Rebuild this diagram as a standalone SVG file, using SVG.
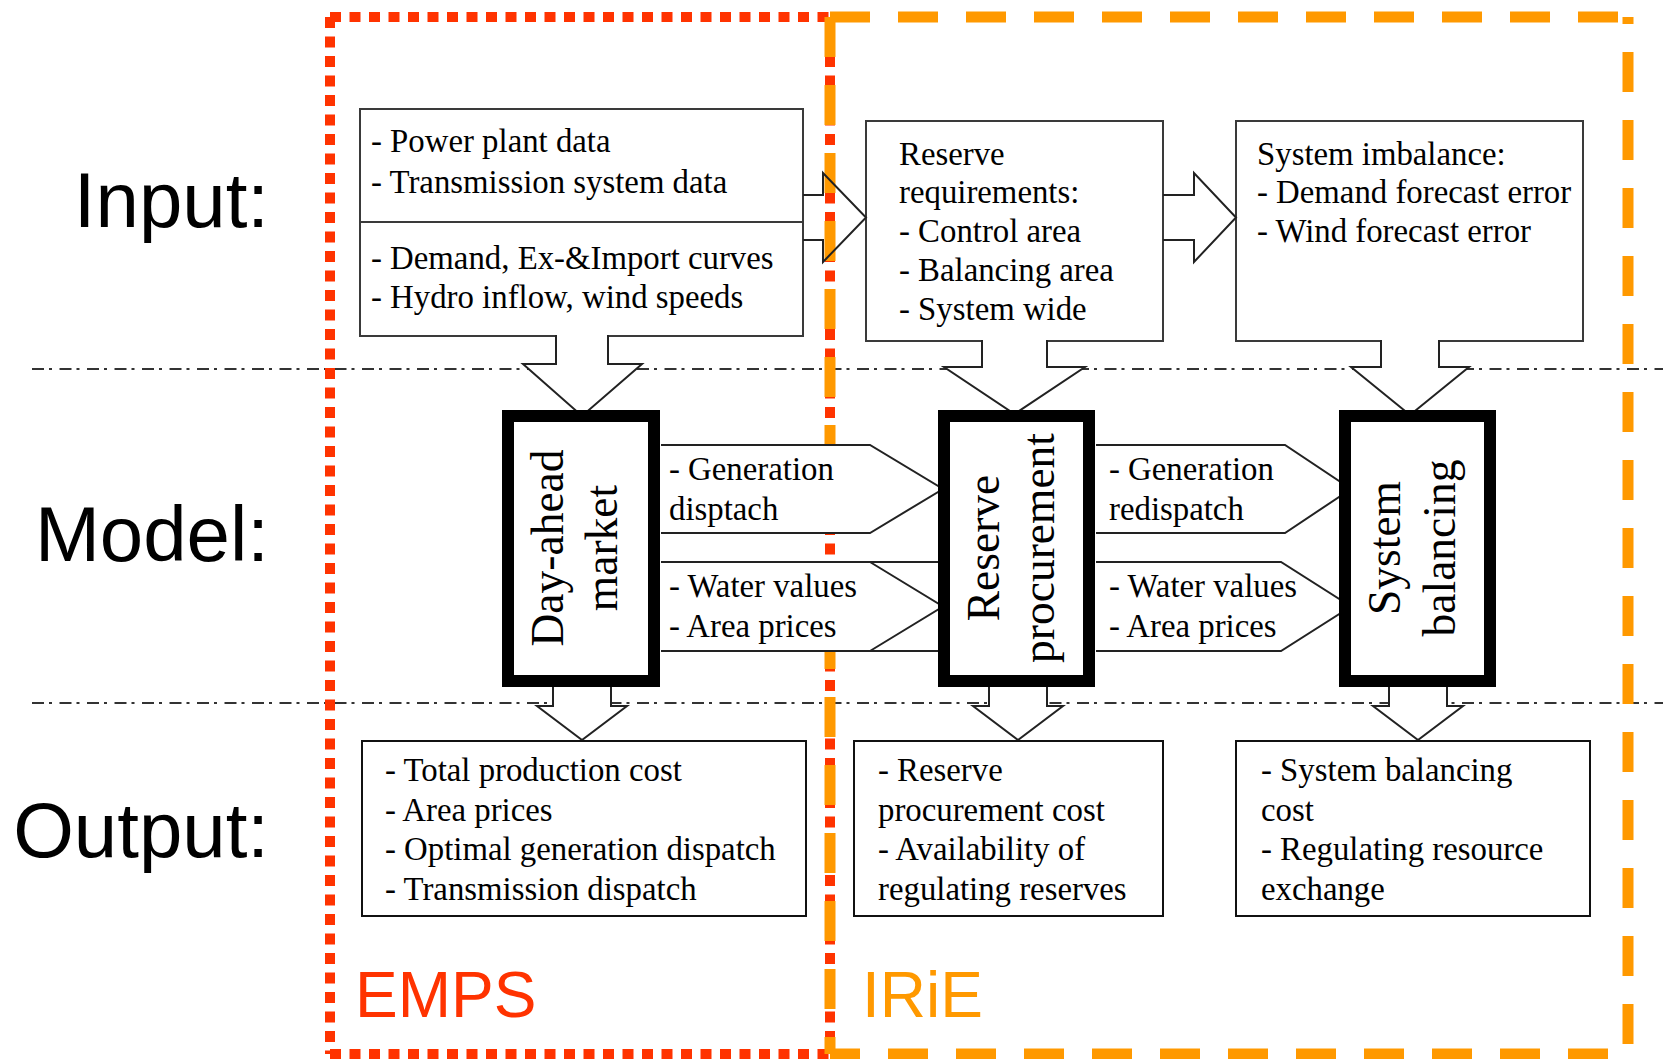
<svg xmlns="http://www.w3.org/2000/svg" width="1669" height="1059" viewBox="0 0 1669 1059">
  <style>
    .lbl{font-family:"Liberation Sans",Arial,sans-serif;font-size:78px;fill:#000;text-anchor:end}
    .t{font-family:"Liberation Serif","Times New Roman",serif;font-size:32.8px;fill:#000}
    .big{font-family:"Liberation Serif","Times New Roman",serif;font-size:45.5px;fill:#000;text-anchor:middle}
    .sep{fill:none;stroke:#333;stroke-width:2;stroke-dasharray:12 5 3 7.5}
    .box{fill:#fff;stroke:#3a3a3a;stroke-width:2}
    .obox{fill:#fff;stroke:#111;stroke-width:2}
    .mbox{fill:#fff;stroke:#000;stroke-width:12}
    .arr{fill:#fff;stroke:#222;stroke-width:2}
    .arro{fill:none;stroke:#222;stroke-width:2}
    .red{fill:none;stroke:#FF3300;stroke-width:10;stroke-dasharray:11 8.5}
    .org{fill:none;stroke:#FF9900;stroke-width:11;stroke-dasharray:40 28}
    .tag{font-family:"Liberation Sans",Arial,sans-serif;font-size:64px}
  </style>

  <!-- row separators -->
  <g id="separators">
    <line class="sep" x1="32" y1="369" x2="1663" y2="369"/>
    <line class="sep" x1="32" y1="703" x2="1663" y2="703"/>
  </g>

  <!-- row labels -->
  <g id="row-labels">
    <text class="lbl" x="269" y="227">Input:</text>
    <text class="lbl" x="269" y="561">Model:</text>
    <text class="lbl" x="269" y="857">Output:</text>
  </g>

  <!-- input boxes -->
  <g id="in-data">
    <rect class="box" x="360" y="109" width="443" height="227"/>
    <line x1="360" y1="222" x2="803" y2="222" stroke="#3a3a3a" stroke-width="2"/>
    <text class="t" x="371" y="152">- Power plant data</text>
    <text class="t" x="371" y="193">- Transmission system data</text>
    <text class="t" x="371" y="269">- Demand, Ex-&amp;Import curves</text>
    <text class="t" x="371" y="308">- Hydro inflow, wind speeds</text>
  </g>
  <g id="in-reserve">
    <rect class="box" x="866" y="121" width="297" height="220"/>
    <text class="t" x="899" y="165">Reserve</text>
    <text class="t" x="899" y="203">requirements:</text>
    <text class="t" x="899" y="242">- Control area</text>
    <text class="t" x="899" y="281">- Balancing area</text>
    <text class="t" x="899" y="320">- System wide</text>
  </g>
  <g id="in-imbalance">
    <rect class="box" x="1236" y="121" width="347" height="220"/>
    <text class="t" x="1257" y="165">System imbalance:</text>
    <text class="t" x="1257" y="203">- Demand forecast error</text>
    <text class="t" x="1257" y="242">- Wind forecast error</text>
  </g>

  <!-- downward block arrows (white filled, over the separators) -->
  <g id="down-arrows">
    <path class="arr" d="M556,335 V364 H523 L582,416 L642,364 H608 V335"/>
    <path class="arr" d="M982,340 V367 H944 L1014.5,414 L1085,367 H1047 V340"/>
    <path class="arr" d="M1381,340 V367 H1351 L1410,415 L1469,367 H1439 V340"/>
    <path class="arr" d="M553,686 V706 H537 L582,740 L627,706 H611 V686"/>
    <path class="arr" d="M989,686 V706 H973 L1018,740 L1063,706 H1047 V686"/>
    <path class="arr" d="M1389,686 V706 H1373 L1418,740 L1463,706 H1447 V686"/>
  </g>

  <!-- tool boundaries -->
  <g id="emps-boundary">
    <path class="red" d="M330,17 H830"/>
    <path class="red" d="M330,17 V1054"/>
    <path class="red" d="M830,17 V1054"/>
    <path class="red" d="M330,1054 H830"/>
  </g>
  <g id="irie-boundary">
    <path class="org" d="M830,17 H1628"/>
    <path class="org" d="M830,17 V1054"/>
    <path class="org" d="M1628,17 V1054" stroke-dashoffset="33"/>
    <path class="org" d="M830,1054 H1628" stroke-dashoffset="10"/>
  </g>

  <!-- horizontal connectors -->
  <g id="connectors">
    <path class="arro" d="M803,195 H823 V173 L866,217.5 L823,262 V240 H803"/>
    <path class="arro" d="M1163,195 H1194 V173 L1236,217.5 L1194,262 V240 H1163"/>
    <path class="arr" d="M661,445 H870 L943,489 L870,533 H661"/>
    <rect x="661" y="562" width="277" height="89" fill="#fff"/>
    <path class="arro" d="M661,562 H938 M661,651 H938 M870,562 L943,606.5 L870,651"/>
    <path class="arr" d="M1096,445 H1285 L1351,489 L1285,533 H1096"/>
    <path class="arr" d="M1096,562 H1281 L1351,606.5 L1281,651 H1096"/>
    <text class="t" x="669" y="480">- Generation</text>
    <text class="t" x="669" y="520">disptach</text>
    <text class="t" x="669" y="597">- Water values</text>
    <text class="t" x="669" y="637">- Area prices</text>
    <text class="t" x="1109" y="480">- Generation</text>
    <text class="t" x="1109" y="520">redispatch</text>
    <text class="t" x="1109" y="597">- Water values</text>
    <text class="t" x="1109" y="637">- Area prices</text>
  </g>

  <!-- model blocks -->
  <g id="m-dayahead">
    <rect class="mbox" x="508" y="416" width="146" height="265"/>
    <text class="big" transform="translate(563,548) rotate(-90)">Day-ahead</text>
    <text class="big" transform="translate(617,548) rotate(-90)">market</text>
  </g>
  <g id="m-reserve">
    <rect class="mbox" x="944" y="416" width="145" height="265"/>
    <text class="big" transform="translate(999,548) rotate(-90)">Reserve</text>
    <text class="big" transform="translate(1054,548) rotate(-90)">procurement</text>
  </g>
  <g id="m-balancing">
    <rect class="mbox" x="1345" y="416" width="145" height="265"/>
    <text class="big" transform="translate(1400,548) rotate(-90)">System</text>
    <text class="big" transform="translate(1455,548) rotate(-90)">balancing</text>
  </g>

  <!-- output boxes -->
  <g id="out-emps">
    <rect class="obox" x="362" y="741" width="444" height="175"/>
    <text class="t" x="385" y="781">- Total production cost</text>
    <text class="t" x="385" y="821">- Area prices</text>
    <text class="t" x="385" y="860">- Optimal generation dispatch</text>
    <text class="t" x="385" y="900">- Transmission dispatch</text>
  </g>
  <g id="out-reserve">
    <rect class="obox" x="854" y="741" width="309" height="175"/>
    <text class="t" x="878" y="781">- Reserve</text>
    <text class="t" x="878" y="821">procurement cost</text>
    <text class="t" x="878" y="860">- Availability of</text>
    <text class="t" x="878" y="900">regulating reserves</text>
  </g>
  <g id="out-balancing">
    <rect class="obox" x="1236" y="741" width="354" height="175"/>
    <text class="t" x="1261" y="781">- System balancing</text>
    <text class="t" x="1261" y="821">cost</text>
    <text class="t" x="1261" y="860">- Regulating resource</text>
    <text class="t" x="1261" y="900">exchange</text>
  </g>

  <!-- tool names -->
  <g id="tool-tags">
    <text class="tag" x="355" y="1017" fill="#FF3300">EMPS</text>
    <text class="tag" x="862" y="1017" fill="#FF9900">IRiE</text>
  </g>
</svg>
